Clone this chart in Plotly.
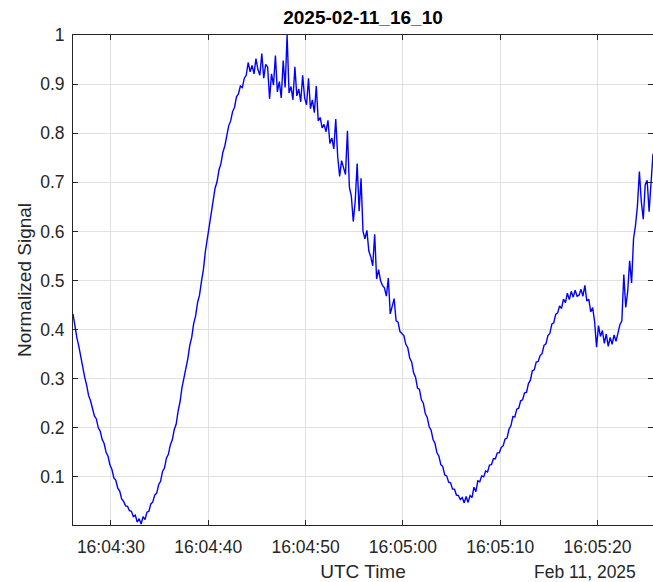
import pandas as pd
import plotly.graph_objects as go

# Sampling: one reading every 0.2 s starting at 16:04:26.1 UTC
start_time = "2025-02-11 16:04:26.100"
sample_step = "200ms"

# Normalized signal, ten samples (2 s) per row
signal = [
    0.432, 0.405, 0.383, 0.366, 0.342, 0.325, 0.303, 0.287, 0.266, 0.255,
    0.241, 0.224, 0.218, 0.200, 0.193, 0.176, 0.168, 0.150, 0.142, 0.124,
    0.115, 0.098, 0.093, 0.077, 0.071, 0.055, 0.050, 0.041, 0.040, 0.031,
    0.030, 0.019, 0.022, 0.008, 0.015, 0.004, 0.019, 0.013, 0.028, 0.030,
    0.045, 0.049, 0.063, 0.067, 0.084, 0.091, 0.111, 0.118, 0.138, 0.146,
    0.165, 0.175, 0.196, 0.207, 0.234, 0.253, 0.282, 0.300, 0.325, 0.341,
    0.368, 0.384, 0.412, 0.428, 0.455, 0.470, 0.498, 0.522, 0.559, 0.585,
    0.611, 0.641, 0.660, 0.688, 0.701, 0.725, 0.738, 0.761, 0.774, 0.798,
    0.815, 0.825, 0.844, 0.853, 0.874, 0.880, 0.896, 0.893, 0.912, 0.918,
    0.944, 0.925, 0.938, 0.921, 0.952, 0.930, 0.918, 0.962, 0.912, 0.940,
    0.935, 0.870, 0.921, 0.898, 0.958, 0.884, 0.905, 0.872, 0.948, 0.893,
    1.000, 0.882, 0.895, 0.868, 0.935, 0.876, 0.890, 0.864, 0.918, 0.872,
    0.858, 0.912, 0.850, 0.868, 0.842, 0.896, 0.825, 0.832, 0.811, 0.818,
    0.803, 0.826, 0.779, 0.790, 0.768, 0.829, 0.752, 0.712, 0.744, 0.730,
    0.716, 0.805, 0.690, 0.672, 0.620, 0.662, 0.738, 0.641, 0.708, 0.600,
    0.585, 0.602, 0.560, 0.548, 0.530, 0.594, 0.503, 0.522, 0.500, 0.490,
    0.485, 0.468, 0.505, 0.432, 0.448, 0.463, 0.418, 0.415, 0.396, 0.392,
    0.388, 0.370, 0.363, 0.342, 0.334, 0.312, 0.303, 0.281, 0.278, 0.257,
    0.250, 0.229, 0.221, 0.202, 0.195, 0.176, 0.168, 0.149, 0.142, 0.125,
    0.121, 0.104, 0.102, 0.089, 0.088, 0.075, 0.075, 0.063, 0.062, 0.054,
    0.058, 0.047, 0.060, 0.048, 0.062, 0.058, 0.079, 0.070, 0.092, 0.090,
    0.102, 0.100, 0.112, 0.110, 0.124, 0.125, 0.137, 0.137, 0.149, 0.149,
    0.160, 0.163, 0.177, 0.179, 0.197, 0.204, 0.223, 0.222, 0.238, 0.240,
    0.255, 0.257, 0.271, 0.272, 0.290, 0.297, 0.316, 0.318, 0.334, 0.335,
    0.347, 0.351, 0.368, 0.371, 0.388, 0.392, 0.411, 0.414, 0.431, 0.434,
    0.448, 0.443, 0.462, 0.455, 0.474, 0.461, 0.478, 0.466, 0.480, 0.468,
    0.470, 0.482, 0.468, 0.490, 0.458, 0.462, 0.436, 0.445, 0.416, 0.364,
    0.408, 0.386, 0.398, 0.372, 0.391, 0.366, 0.384, 0.370, 0.389, 0.376,
    0.392, 0.410, 0.418, 0.512, 0.445, 0.478, 0.540, 0.495, 0.585, 0.612,
    0.652, 0.722, 0.660, 0.625, 0.695, 0.704, 0.640, 0.712, 0.758,
]

times = pd.date_range(start=start_time, periods=len(signal), freq=sample_step)

y_ticks = [0.1, 0.2, 0.3, 0.4, 0.5, 0.6, 0.7, 0.8, 0.9, 1.0]
y_tick_labels = ["0.1", "0.2", "0.3", "0.4", "0.5", "0.6", "0.7", "0.8", "0.9", "1"]

title_text = "2025-02-11_16_10"
x_label = "UTC Time"
y_label = "Normalized Signal"
date_label = "Feb 11, 2025"

FONT = "Liberation Sans, Arial, Helvetica, sans-serif"
AXIS_COLOR = "#262626"
GRID_COLOR = "#e0e0e0"

fig = go.Figure()
fig.add_trace(go.Scatter(
    x=times, y=signal, mode="lines",
    line=dict(color="#0000ff", width=1.4),
    showlegend=False, hoverinfo="x+y",
))

fig.update_layout(
    width=653, height=582,
    margin=dict(l=73, r=0, t=35, b=57),
    paper_bgcolor="white", plot_bgcolor="white",
    font=dict(family=FONT, color=AXIS_COLOR, size=17),
    title=dict(
        text="<b>" + title_text + "</b>",
        x=(363 / 653), xanchor="center",
        y=1 - 17 / 582, yanchor="middle",
        font=dict(size=19, color="black", family=FONT),
    ),
    xaxis=dict(
        type="date",
        range=[times[0], times[-1]],
        tick0="2025-02-11 16:04:30", dtick=10000,
        tickformat="%H:%M:%S",
        showgrid=True, gridcolor=GRID_COLOR, gridwidth=1,
        showline=True, linecolor=AXIS_COLOR, linewidth=1, mirror="ticks",
        ticks="inside", ticklen=5, tickcolor=AXIS_COLOR, tickwidth=1,
        tickfont=dict(size=17.5, color=AXIS_COLOR),
        ticklabelstandoff=6,
        zeroline=False,
        title=dict(text=x_label, font=dict(size=19, color=AXIS_COLOR), standoff=9),
    ),
    yaxis=dict(
        range=[0.002, 1.0],
        tickvals=y_ticks, ticktext=y_tick_labels,
        showgrid=True, gridcolor=GRID_COLOR, gridwidth=1,
        showline=True, linecolor=AXIS_COLOR, linewidth=1, mirror="ticks",
        ticks="inside", ticklen=5, tickcolor=AXIS_COLOR, tickwidth=1,
        tickfont=dict(size=17.5, color=AXIS_COLOR),
        ticklabelstandoff=4,
        zeroline=False,
        title=dict(text=y_label, font=dict(size=19, color=AXIS_COLOR), standoff=3),
    ),
    annotations=[dict(
        text=date_label, xref="paper", yref="paper",
        x=(638 - 73) / 580, y=(525 - 572) / 490,
        xanchor="right", yanchor="middle", showarrow=False,
        font=dict(size=17.5, color=AXIS_COLOR, family=FONT),
    )],
)

fig.write_html("out.html")
